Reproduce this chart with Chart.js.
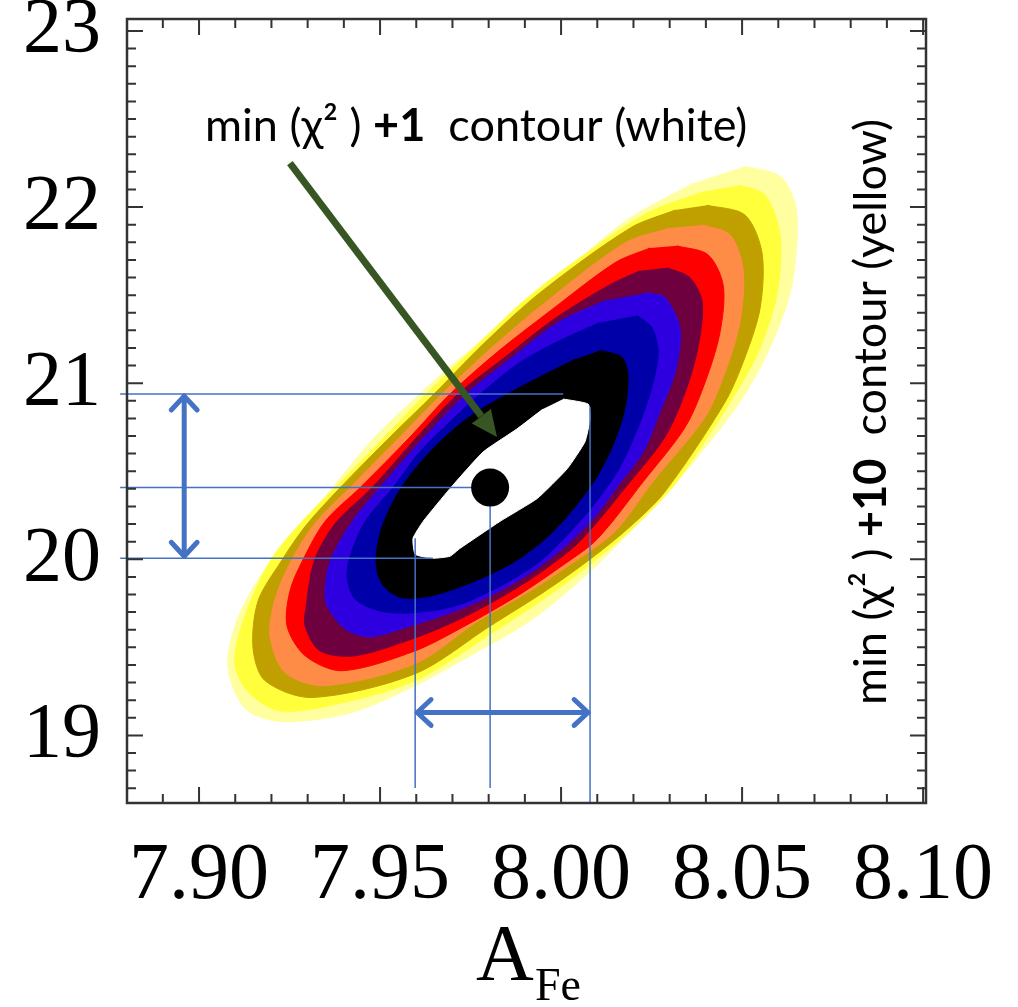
<!DOCTYPE html>
<html>
<head>
<meta charset="utf-8">
<script src="https://cdn.jsdelivr.net/npm/chart.js@4.4.1/dist/chart.umd.min.js"></script>
<style>
  html, body { margin: 0; padding: 0; background: #fff; }
  #wrap { width: 1018px; height: 1007px; position: relative; }
</style>
</head>
<body>
<div id="wrap"><canvas id="chi2Map"></canvas></div>
<script>
// axis tick labels
const xTicks = [7.90, 7.95, 8.00, 8.05, 8.10];
const yTicks = [19, 20, 21, 22, 23];

// chi^2 contour levels, outermost (+10) to innermost (+1), as [A_Fe, y] outlines
const levelPale = [
  [8.0508, 22.232], [8.0605, 22.175], [8.0646, 22.023], [8.0652, 21.825], [8.0633, 21.514],
  [8.0577, 21.203], [8.0494, 20.893], [8.0343, 20.497], [8.0191, 20.158], [8.0066, 19.904],
  [7.9914, 19.650], [7.9749, 19.452], [7.9597, 19.282], [7.9412, 19.124], [7.9224, 19.079],
  [7.9127, 19.153], [7.9080, 19.379], [7.9099, 19.621], [7.9160, 19.876], [7.9251, 20.130],
  [7.9348, 20.356], [7.9481, 20.684], [7.9666, 21.045], [7.9831, 21.328], [7.9997, 21.610],
  [8.0182, 21.927], [8.0365, 22.136]
];
const levelYellow = [
  [8.0494, 22.124], [8.0564, 22.068], [8.0605, 21.836], [8.0597, 21.514], [8.0550, 21.203],
  [8.0481, 20.938], [8.0320, 20.441], [8.0218, 20.215], [8.0108, 20.017], [7.9983, 19.819],
  [7.9818, 19.593], [7.9597, 19.311], [7.9362, 19.169], [7.9218, 19.141], [7.9133, 19.254],
  [7.9099, 19.407], [7.9122, 19.650], [7.9196, 19.989], [7.9279, 20.203], [7.9376, 20.407],
  [7.9486, 20.638], [7.9627, 20.938], [7.9776, 21.232], [7.9892, 21.458], [8.0025, 21.672],
  [8.0238, 21.966], [8.0398, 22.090]
];
const levelOlive = [
  [8.0403, 22.011], [8.0508, 21.955], [8.0555, 21.740], [8.0550, 21.429], [8.0508, 21.147],
  [8.0453, 20.893], [8.0287, 20.384], [8.0191, 20.186], [8.0080, 20.000], [7.9956, 19.819],
  [7.9804, 19.621], [7.9597, 19.350], [7.9312, 19.215], [7.9182, 19.311], [7.9149, 19.497],
  [7.9163, 19.763], [7.9227, 19.989], [7.9293, 20.186], [7.9390, 20.407], [7.9528, 20.695],
  [7.9649, 20.938], [7.9790, 21.232], [7.9942, 21.514], [8.0191, 21.881], [8.0315, 21.983]
];
const levelOrange = [
  [8.0392, 21.898], [8.0467, 21.842], [8.0503, 21.644], [8.0494, 21.345], [8.0453, 21.062],
  [8.0398, 20.808], [8.0254, 20.441], [8.0149, 20.158], [8.0039, 19.989], [7.9914, 19.819],
  [7.9771, 19.650], [7.9597, 19.407], [7.9348, 19.282], [7.9238, 19.356], [7.9196, 19.565],
  [7.9210, 19.774], [7.9254, 19.989], [7.9320, 20.203], [7.9417, 20.407], [7.9555, 20.695],
  [7.9671, 20.938], [7.9809, 21.203], [7.9956, 21.458], [8.0177, 21.797], [8.0301, 21.881]
];
const levelRed = [
  [8.0320, 21.780], [8.0406, 21.729], [8.0448, 21.554], [8.0439, 21.288], [8.0398, 21.006],
  [8.0343, 20.751], [8.0227, 20.441], [8.0099, 20.113], [7.9997, 19.955], [7.9887, 19.802],
  [7.9749, 19.638], [7.9597, 19.480], [7.9395, 19.367], [7.9293, 19.452], [7.9243, 19.621],
  [7.9251, 19.819], [7.9285, 19.989], [7.9348, 20.215], [7.9445, 20.407], [7.9583, 20.695],
  [7.9693, 20.938], [7.9823, 21.175], [7.9964, 21.401], [8.0149, 21.684], [8.0246, 21.768]
];
const levelMaroon = [
  [8.0293, 21.655], [8.0356, 21.599], [8.0390, 21.458], [8.0378, 21.203], [8.0343, 20.949],
  [8.0287, 20.695], [8.0191, 20.441], [8.0052, 20.102], [7.9956, 19.944], [7.9845, 19.797],
  [7.9721, 19.661], [7.9597, 19.554], [7.9431, 19.452], [7.9334, 19.480], [7.9293, 19.621],
  [7.9296, 19.734], [7.9318, 19.989], [7.9376, 20.203], [7.9478, 20.407], [7.9610, 20.712],
  [7.9715, 20.938], [7.9845, 21.147], [7.9983, 21.367], [8.0135, 21.559], [8.0218, 21.638]
];
const levelBlue = [
  [8.0238, 21.514], [8.0287, 21.486], [8.0329, 21.305], [8.0315, 21.062], [8.0273, 20.836],
  [8.0227, 20.610], [8.0155, 20.412], [8.0094, 20.243], [8.0011, 20.073], [7.9914, 19.921],
  [7.9804, 19.791], [7.9693, 19.695], [7.9583, 19.621], [7.9472, 19.559], [7.9403, 19.605],
  [7.9354, 19.734], [7.9348, 19.819], [7.9362, 19.989], [7.9423, 20.215], [7.9500, 20.407],
  [7.9610, 20.667], [7.9738, 20.938], [7.9859, 21.136], [7.9992, 21.345], [8.0122, 21.469]
];
const levelNavy = [
  [8.0210, 21.384], [8.0251, 21.316], [8.0268, 21.175], [8.0251, 20.977], [8.0213, 20.751],
  [8.0163, 20.525], [8.0108, 20.356], [8.0039, 20.186], [7.9942, 19.989], [7.9831, 19.847],
  [7.9707, 19.734], [7.9583, 19.695], [7.9500, 19.706], [7.9431, 19.774], [7.9409, 19.893],
  [7.9417, 20.017], [7.9459, 20.215], [7.9536, 20.407], [7.9610, 20.610], [7.9707, 20.808],
  [7.9776, 20.938], [7.9887, 21.119], [7.9997, 21.243], [8.0108, 21.345]
];
const levelBlack = [
  [8.0108, 21.186], [8.0168, 21.147], [8.0185, 21.034], [8.0174, 20.836], [8.0141, 20.638],
  [8.0099, 20.469], [8.0039, 20.299], [7.9964, 20.130], [7.9873, 19.989], [7.9762, 19.876],
  [7.9638, 19.791], [7.9555, 19.785], [7.9506, 19.859], [7.9489, 19.989], [7.9506, 20.186],
  [7.9555, 20.395], [7.9638, 20.610], [7.9735, 20.791], [7.9831, 20.915], [7.9956, 21.051],
  [8.0039, 21.136]
];
const levelWhite = [
  [8.0006, 20.910], [8.0075, 20.881], [8.0080, 20.797], [8.0066, 20.667], [8.0017, 20.514],
  [7.9934, 20.345], [7.9831, 20.215], [7.9721, 20.062], [7.9693, 20.017], [7.9646, 20.006],
  [7.9597, 20.028], [7.9591, 20.119], [7.9619, 20.215], [7.9693, 20.401], [7.9785, 20.610],
  [7.9878, 20.740], [7.9950, 20.853]
];

const levels = [levelPale, levelYellow, levelOlive, levelOrange, levelRed,
                levelMaroon, levelBlue, levelNavy, levelBlack, levelWhite];
const levelColors = ['#ffffa0', '#ffff3c', '#bfa000', '#ff8c46', '#ff0000',
                     '#6e0040', '#2e00e0', '#0000a8', '#000000', '#ffffff'];

// best fit and the +1 interval
const bestFit = [7.9804, 20.407];
const feInterval = [7.9597, 8.0080];
const yInterval = [20.006, 20.938];
const guideStartX = 7.8782;
const guideEndY = 18.701;
const arrowRowY = 19.130;
const arrowColX = 7.8959;
const pointerFrom = [7.9251, 22.249];
const pointerTo = [7.9823, 20.695];

const BLUE = '#4472c4';

function guide(points) {
  return {
    data: points, showLine: true, borderColor: BLUE, borderWidth: 1.5,
    pointRadius: 0, fill: false, clip: false, order: 0
  };
}

const contourSets = levels.map((pts, i) => ({
  data: pts,
  showLine: true,
  fill: 'shape',
  backgroundColor: levelColors[i],
  borderColor: levelColors[i],
  borderWidth: 1,
  pointRadius: 0,
  tension: i === levels.length - 1 ? 0.15 : 0.3,
  order: 20 - i
}));

const guideSets = [
  guide([[guideStartX, yInterval[1]], [8.0006, yInterval[1]]]),
  guide([[guideStartX, bestFit[1]], [bestFit[0], bestFit[1]]]),
  guide([[guideStartX, yInterval[0]], [7.9646, yInterval[0]]]),
  guide([[feInterval[0], 20.119], [feInterval[0], guideEndY]]),
  guide([[bestFit[0], bestFit[1]], [bestFit[0], guideEndY]]),
  guide([[feInterval[1], 20.864], [feInterval[1], 18.62]])
];

const dotSet = {
  data: [bestFit], pointRadius: 19, pointBackgroundColor: '#000',
  pointBorderWidth: 0, showLine: false, order: -1
};

// frame with inward major/minor ticks on all four sides
const frameTicks = {
  id: 'frameTicks',
  afterDatasetsDraw(chart) {
    const { ctx, chartArea: a, scales: { x, y } } = chart;
    ctx.save();
    ctx.strokeStyle = '#333';
    ctx.lineWidth = 2.5;
    ctx.strokeRect(a.left, a.top, a.right - a.left, a.bottom - a.top);
    ctx.lineWidth = 2;
    ctx.beginPath();
    for (let i = 789; i <= 810; i++) {
      const px = x.getPixelForValue(i / 100);
      const len = i % 5 === 0 ? 16 : 9;
      ctx.moveTo(px, a.bottom); ctx.lineTo(px, a.bottom - len);
      ctx.moveTo(px, a.top); ctx.lineTo(px, a.top + len);
    }
    for (let i = 187; i <= 230; i++) {
      const py = y.getPixelForValue(i / 10);
      const len = i % 10 === 0 ? 16 : 9;
      ctx.moveTo(a.left, py); ctx.lineTo(a.left + len, py);
      ctx.moveTo(a.right, py); ctx.lineTo(a.right - len, py);
    }
    ctx.stroke();
    ctx.restore();
  }
};

function chevron(ctx, tx, ty, ang, len) {
  ctx.beginPath();
  ctx.moveTo(tx + len * Math.cos(ang + 0.75), ty + len * Math.sin(ang + 0.75));
  ctx.lineTo(tx, ty);
  ctx.lineTo(tx + len * Math.cos(ang - 0.75), ty + len * Math.sin(ang - 0.75));
  ctx.stroke();
}

function richText(ctx, parts, x, yBase) {
  let cx = x;
  parts.forEach(([txt, weight]) => {
    ctx.font = weight + ' 45px Lato';
    ctx.fillText(txt, cx, yBase);
    cx += ctx.measureText(txt).width;
  });
}

// interval arrows, pointer arrow and labels
const annotations = {
  id: 'annotations',
  afterDraw(chart) {
    const { ctx, scales: { x, y } } = chart;
    ctx.save();
    ctx.strokeStyle = BLUE;
    ctx.lineWidth = 5;
    ctx.lineCap = 'round';
    ctx.lineJoin = 'round';

    const ax = x.getPixelForValue(arrowColX);
    const ay0 = y.getPixelForValue(yInterval[1]);
    const ay1 = y.getPixelForValue(yInterval[0]);
    ctx.beginPath(); ctx.moveTo(ax, ay0 + 2); ctx.lineTo(ax, ay1 - 2); ctx.stroke();
    chevron(ctx, ax, ay0 + 2, Math.PI / 2, 19);
    chevron(ctx, ax, ay1 - 2, -Math.PI / 2, 19);

    const hy = y.getPixelForValue(arrowRowY);
    const hx0 = x.getPixelForValue(feInterval[0]);
    const hx1 = x.getPixelForValue(feInterval[1]);
    ctx.beginPath(); ctx.moveTo(hx0 + 2, hy); ctx.lineTo(hx1 - 2, hy); ctx.stroke();
    chevron(ctx, hx0 + 2, hy, 0, 19);
    chevron(ctx, hx1 - 2, hy, Math.PI, 19);

    // pointer to the +1 contour
    const p0x = x.getPixelForValue(pointerFrom[0]), p0y = y.getPixelForValue(pointerFrom[1]);
    const p1x = x.getPixelForValue(pointerTo[0]), p1y = y.getPixelForValue(pointerTo[1]);
    const ang = Math.atan2(p1y - p0y, p1x - p0x);
    const headLen = 26, headW = 12;
    const bx = p1x - headLen * Math.cos(ang), by = p1y - headLen * Math.sin(ang);
    ctx.strokeStyle = '#375623';
    ctx.fillStyle = '#375623';
    ctx.lineWidth = 7;
    ctx.lineCap = 'butt';
    ctx.beginPath(); ctx.moveTo(p0x, p0y); ctx.lineTo(bx, by); ctx.stroke();
    ctx.beginPath();
    ctx.moveTo(p1x, p1y);
    ctx.lineTo(bx + headW * Math.sin(ang), by - headW * Math.cos(ang));
    ctx.lineTo(bx - headW * Math.sin(ang), by + headW * Math.cos(ang));
    ctx.closePath(); ctx.fill();

    ctx.fillStyle = '#000';
    ctx.textBaseline = 'alphabetic';
    richText(ctx, [['min (\u03C7\u00B2 ) ', 'normal'], ['+1', 'bold'], ['  contour (white)', 'normal']], 205, 141);

    ctx.save();
    ctx.translate(886, 705);
    ctx.rotate(-Math.PI / 2);
    richText(ctx, [['min (\u03C7\u00B2 ) ', 'normal'], ['+10', 'bold'], ['  contour (yellow)', 'normal']], 0, 0);
    ctx.restore();

    // x-axis title A_Fe
    ctx.font = '80px "Liberation Serif"';
    ctx.fillText('A', 476, 980);
    ctx.font = '46px "Liberation Serif"';
    ctx.fillText('Fe', 535, 1000);
    ctx.restore();
  }
};

// keep the plot frame where it is regardless of label overhang
function noOverhang(s) {
  s.paddingTop = 0; s.paddingBottom = 0; s.paddingLeft = 0; s.paddingRight = 0;
}

new Chart(document.getElementById('chi2Map'), {
  type: 'scatter',
  data: { datasets: [...contourSets, ...guideSets, dotSet] },
  options: {
    responsive: true,
    maintainAspectRatio: false,
    animation: false,
    events: [],
    layout: { padding: { left: 0, top: 15, right: 92, bottom: 0 } },
    plugins: { legend: { display: false }, tooltip: { enabled: false } },
    scales: {
      x: {
        type: 'linear', min: 7.8801, max: 8.1008,
        afterBuildTicks: s => { s.ticks = xTicks.map(v => ({ value: v })); },
        afterFit: s => { s.height = 204; noOverhang(s); },
        grid: { display: false, drawTicks: false },
        border: { display: false },
        ticks: {
          font: { family: 'Liberation Serif', size: 80 }, color: '#000',
          padding: 26, maxRotation: 0, autoSkip: false,
          callback: v => Number(v).toFixed(2)
        }
      },
      y: {
        type: 'linear', min: 18.616, max: 23.068,
        afterBuildTicks: s => { s.ticks = yTicks.map(v => ({ value: v })); },
        afterFit: s => { s.width = 127; noOverhang(s); },
        grid: { display: false, drawTicks: false },
        border: { display: false },
        ticks: {
          font: { family: 'Liberation Serif', size: 78 }, color: '#000',
          padding: 26, autoSkip: false,
          callback: v => String(v)
        }
      }
    }
  },
  plugins: [frameTicks, annotations]
});
</script>
</body>
</html>
